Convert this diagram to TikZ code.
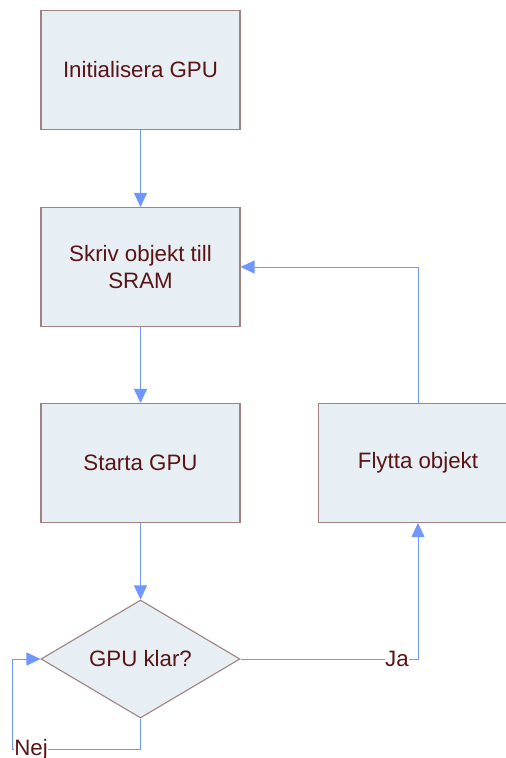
\documentclass[tikz,border=0pt]{standalone}
\usepackage{fontspec}
\setmainfont{Liberation Sans}
\usetikzlibrary{shapes.geometric,arrows.meta}
\definecolor{boxfill}{HTML}{E7EEF4}
\definecolor{boxedge}{HTML}{A08282}
\definecolor{textcol}{HTML}{5A1414}
\definecolor{flowcol}{HTML}{7096FF}
\tikzset{
  stepbox/.style={rectangle, draw=boxedge, fill=boxfill, line width=1.1pt,
    minimum width=199pt, minimum height=119pt, inner sep=0pt,
    text=textcol, align=center, font=\fontsize{22.3}{27}\selectfont},
  decision/.style={diamond, draw=boxedge, fill=boxfill, line width=1.1pt,
    minimum width=199pt, minimum height=118pt, inner sep=0pt, aspect=1.69,
    text=textcol, font=\fontsize{22.3}{27}\selectfont},
  flow/.style={draw=flowcol, line width=0.9pt, -{Triangle[length=14pt,width=13pt]}},
  plainflow/.style={draw=flowcol, line width=0.9pt},
  edgelabel/.style={fill=white, inner sep=0.5pt, text=textcol,
    font=\fontsize{22.3}{27}\selectfont},
}
\begin{document}
\begin{tikzpicture}[x=1pt,y=1pt]
  \useasboundingbox (0,0) rectangle (506,758);
  % process boxes
  \node[stepbox] (init)  at (140.5,688) {Initialisera GPU};
  \node[stepbox] (write) at (140.5,491) {Skriv objekt till\\SRAM};
  \node[stepbox] (start) at (140.5,295) {Starta GPU};
  \node[stepbox] (move)  at (418,295)   {Flytta objekt};
  % decision
  \node[decision] (ready) at (140.5,99) {GPU klar?};
  % main flow
  \draw[flow] (init) -- (write);
  \draw[flow] (write) -- (start);
  \draw[flow] (start) -- (ready);
  % yes branch
  \draw[flow] (ready.east) -| (move.south);
  \node[edgelabel] (ja) at (397,99) {Ja};
  % loop back to writing
  \coordinate (back) at (418,491);
  \draw[plainflow] (move.north) -- (back);
  \draw[flow] (back) -- (write.east);
  % no branch
  \coordinate (nocorner) at (12,9);
  \draw[flow] (ready.south) |- (nocorner) |- (ready.west);
  \node[edgelabel] (nej) at (31,8) {Nej};
\end{tikzpicture}
\end{document}
